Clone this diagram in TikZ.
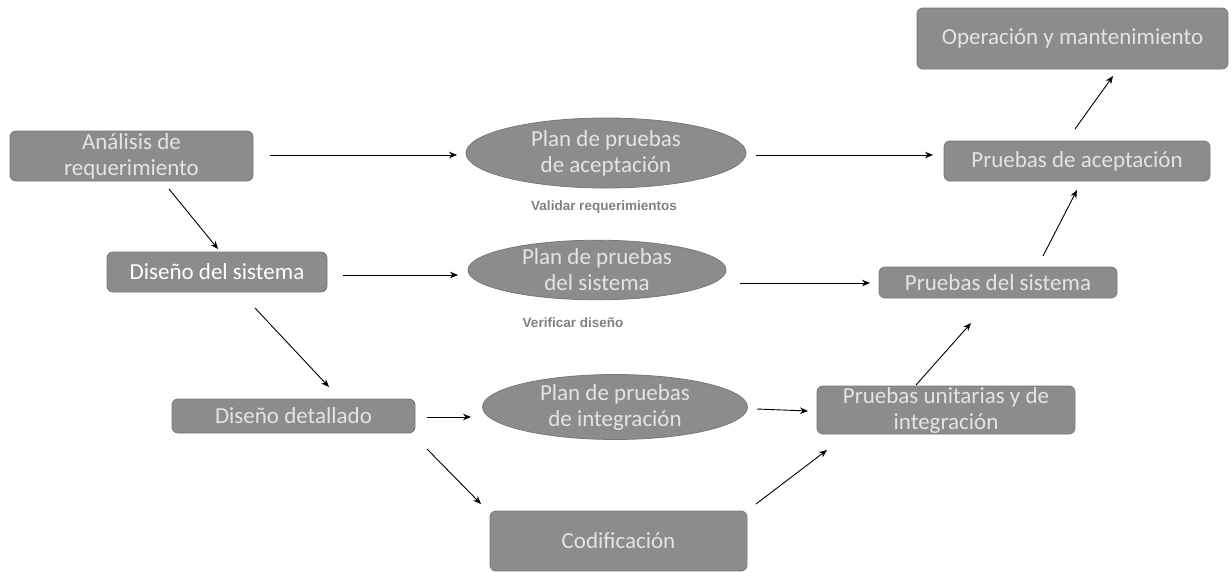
\documentclass[tikz,border=0pt]{standalone}
\usepackage{fontspec}
\setmainfont{Carlito}
\newfontfamily\notefont{Liberation Sans}
\usetikzlibrary{arrows.meta,shapes.geometric}
\definecolor{boxfill}{HTML}{8C8C8C}
\definecolor{boxline}{HTML}{787878}
\definecolor{boxtext}{HTML}{E4E4E4}
\definecolor{notetext}{HTML}{808080}
\tikzset{
  phase/.style={draw=boxline, line width=0.8pt, fill=boxfill, rounded corners=6pt,
    text=boxtext, font=\fontsize{23}{26}\selectfont, align=center, inner sep=0pt},
  plan/.style={draw=boxline, line width=0.8pt, fill=boxfill, ellipse, inner sep=0pt,
    text=boxtext, font=\fontsize{23}{26}\selectfont, align=center},
  note/.style={text=notetext, font=\notefont\bfseries\fontsize{13.5}{15}\selectfont, inner sep=0pt},
  flow/.style={-{Stealth[length=8pt,width=6.5pt]}, line width=0.9pt, black},
}
\begin{document}
\begin{tikzpicture}[x=1pt,y=-1pt]
\useasboundingbox (0,0) rectangle (1231,571);

% phases on the left leg
\node[phase, minimum width=243pt, minimum height=50pt] (req) at (131.5,156) {Análisis de\\requerimiento};
\node[phase, minimum width=220pt, minimum height=40pt, text=white] (sys) at (217,272) {Diseño del sistema};
\node[phase, minimum width=243pt, minimum height=34pt] (det) at (293.5,416) {Diseño detallado};
\node[phase, minimum width=257pt, minimum height=60pt] (cod) at (618.5,541) {Codificación};

% test plans in the middle
\node[plan, minimum width=280pt, minimum height=70pt] (pa) at (606,153) {Plan de pruebas\\de aceptación};
\node[plan, minimum width=258pt, minimum height=48pt] (ps) at (597,270) {Plan de pruebas\\del sistema};
\node[plan, minimum width=265pt, minimum height=64pt] (pi) at (615,407) {Plan de pruebas\\de integración};
\node[note] (val) at (604,207) {Validar requerimientos};
\node[note] (ver) at (573,323) {Verificar diseño};

% phases on the right leg
\node[phase, minimum width=258pt, minimum height=48pt] (pu) at (946,410) {Pruebas unitarias y de\\integración};
\node[phase, minimum width=238pt, minimum height=31pt] (pst) at (998,282.5) {Pruebas del sistema};
\node[phase, minimum width=266pt, minimum height=40pt] (pac) at (1077,161) {Pruebas de aceptación};
\node[phase, minimum width=311pt, minimum height=61pt] (op) at (1072.5,38.5) {Operación y mantenimiento};

% connector end points
\coordinate (a1) at (270,155); \coordinate (a2) at (457,155);
\coordinate (b1) at (756,155); \coordinate (b2) at (933,155);
\coordinate (c1) at (169,189); \coordinate (c2) at (218,249);
\coordinate (d1) at (343,275); \coordinate (d2) at (458,275);
\coordinate (e1) at (740,283); \coordinate (e2) at (870,283);
\coordinate (f1) at (255,308); \coordinate (f2) at (329,387);
\coordinate (g1) at (427,417); \coordinate (g2) at (471,417);
\coordinate (h1) at (757,409); \coordinate (h2) at (808,411);
\coordinate (i1) at (427,449); \coordinate (i2) at (481,504);
\coordinate (j1) at (756,504); \coordinate (j2) at (827,450);
\coordinate (k1) at (916,385); \coordinate (k2) at (971,323);
\coordinate (l1) at (1043,256); \coordinate (l2) at (1077,190);
\coordinate (m1) at (1075,129); \coordinate (m2) at (1113,76);

\draw[flow] (a1) -- (a2);
\draw[flow] (b1) -- (b2);
\draw[flow] (c1) -- (c2);
\draw[flow] (d1) -- (d2);
\draw[flow] (e1) -- (e2);
\draw[flow] (f1) -- (f2);
\draw[flow] (g1) -- (g2);
\draw[flow] (h1) -- (h2);
\draw[flow] (i1) -- (i2);
\draw[flow] (j1) -- (j2);
\draw[flow] (k1) -- (k2);
\draw[flow] (l1) -- (l2);
\draw[flow] (m1) -- (m2);
\end{tikzpicture}
\end{document}
